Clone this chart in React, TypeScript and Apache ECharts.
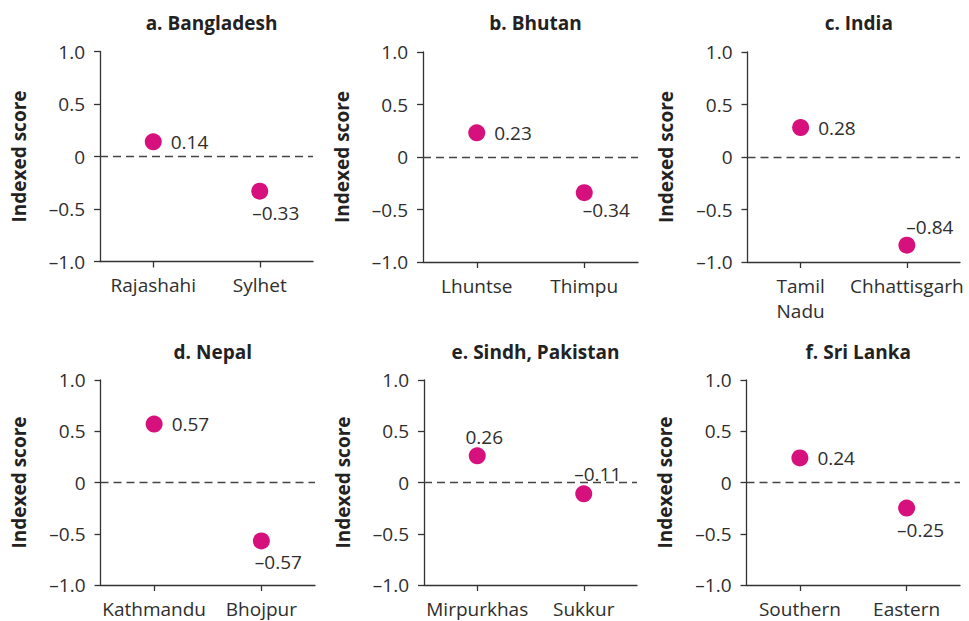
import React, { useEffect, useRef } from "react";
import * as echarts from "echarts";

// ---- data ----
const panelTitles = ["a. Bangladesh", "b. Bhutan", "c. India", "d. Nepal", "e. Sindh, Pakistan", "f. Sri Lanka"];
const categoriesA = ["Rajashahi", "Sylhet"];
const valuesA = [0.14, -0.33];
const categoriesB = ["Lhuntse", "Thimpu"];
const valuesB = [0.23, -0.34];
const categoriesC = ["Tamil\nNadu", "Chhattisgarh"];
const valuesC = [0.28, -0.84];
const categoriesD = ["Kathmandu", "Bhojpur"];
const valuesD = [0.57, -0.57];
const categoriesE = ["Mirpurkhas", "Sukkur"];
const valuesE = [0.26, -0.11];
const categoriesF = ["Southern", "Eastern"];
const valuesF = [0.24, -0.25];
const yTicks = [-1.0, -0.5, 0, 0.5, 1.0];
const yAxisName = "Indexed score";

// ---- layout / style ----
const grids = [
  { left: 100, top: 51.5, width: 213, height: 210 },
  { left: 423, top: 52, width: 215, height: 210 },
  { left: 747.5, top: 52, width: 212.5, height: 210 },
  { left: 100.5, top: 380, width: 214.5, height: 207 },
  { left: 424, top: 380, width: 213, height: 207 },
  { left: 746.5, top: 380, width: 213.5, height: 207 },
];
// label placement for each point: null => right of dot; otherwise offset from centre
const labelOffsets: (number[] | null)[][] = [
  [null, [16, 22]],
  [null, [22, 17]],
  [null, [23, -18]],
  [null, [17, 21]],
  [[7, -19], [14, -20]],
  [null, [14, 22]],
];

const FONT = "'Open Sans', 'Noto Sans', sans-serif";
const TEXT = "#2e2e2e";
const DOT = "#d6117d";

const fmt = (v: number) => {
  if (Math.abs(v) < 1e-9) return "0";
  const s = Math.abs(v).toFixed(1);
  return v < 0 ? "\u2013" + s : s;
};
const fmtVal = (v: number) => (v < 0 ? "\u2013" + Math.abs(v).toFixed(2) : v.toFixed(2));

export default function App() {
  const ref = useRef<HTMLDivElement>(null);
  useEffect(() => {
    document.body.style.margin = "0";
    if (!ref.current) return;
    const chart = echarts.init(ref.current, null, { renderer: "svg" });
    const cats = [categoriesA, categoriesB, categoriesC, categoriesD, categoriesE, categoriesF];
    const vals = [valuesA, valuesB, valuesC, valuesD, valuesE, valuesF];

    const option: any = {
      animation: false,
      backgroundColor: "#ffffff",
      textStyle: { fontFamily: FONT },
      title: grids.map((g, i) => ({
        text: panelTitles[i],
        left: g.left + g.width / 2,
        top: i < 3 ? 8 : 337,
        textAlign: "center",
        textStyle: { fontFamily: FONT, fontWeight: "bold", fontSize: 19, color: "#222222" },
      })),
      grid: grids.map((g) => ({ ...g, containLabel: false })),
      xAxis: grids.map((g, i) => ({
        type: "category",
        gridIndex: i,
        data: cats[i],
        boundaryGap: true,
        axisLine: { show: true, onZero: false, lineStyle: { color: "#333333", width: 1.3 } },
        axisTick: { show: true, alignWithLabel: true, length: 6, lineStyle: { color: "#333333", width: 1.3 } },
        axisLabel: { color: TEXT, fontSize: 19, fontFamily: FONT, margin: 11, lineHeight: 25, interval: 0 },
        splitLine: { show: false },
      })),
      yAxis: grids.map((g, i) => ({
        type: "value",
        gridIndex: i,
        min: yTicks[0],
        max: yTicks[yTicks.length - 1],
        interval: 0.5,
        name: yAxisName,
        nameLocation: "middle",
        nameGap: 72,
        nameRotate: 90,
        nameTextStyle: { fontFamily: FONT, fontWeight: "bold", fontSize: 19, color: "#222222" },
        axisLine: { show: true, lineStyle: { color: "#333333", width: 1.3 } },
        axisTick: { show: true, length: 6, lineStyle: { color: "#333333", width: 1.3 } },
        axisLabel: { color: TEXT, fontSize: 19, fontFamily: FONT, margin: 15, formatter: fmt },
        splitLine: { show: false },
      })),
      series: grids.map((g, i) => ({
        type: "scatter",
        xAxisIndex: i,
        yAxisIndex: i,
        symbolSize: 17,
        itemStyle: { color: DOT, opacity: 1 },
        data: vals[i].map((v, j) => {
          const off = labelOffsets[i][j];
          return {
            value: v,
            label: off
              ? { show: true, position: "inside", offset: off, align: "center", verticalAlign: "middle" }
              : { show: true, position: "right", distance: 9 },
          };
        }),
        label: {
          show: true,
          color: TEXT,
          fontSize: 19,
          fontFamily: FONT,
          formatter: (p: any) => fmtVal(p.value),
        },
        markLine: {
          silent: true,
          symbol: ["none", "none"],
          label: { show: false },
          lineStyle: { type: [8, 5], color: "#444444", width: 1.3 },
          data: [{ yAxis: 0 }],
        },
        z: 3,
      })),
    };
    chart.setOption(option);
    return () => chart.dispose();
  }, []);
  return <div ref={ref} style={{ width: 969, height: 621 }} />;
}
